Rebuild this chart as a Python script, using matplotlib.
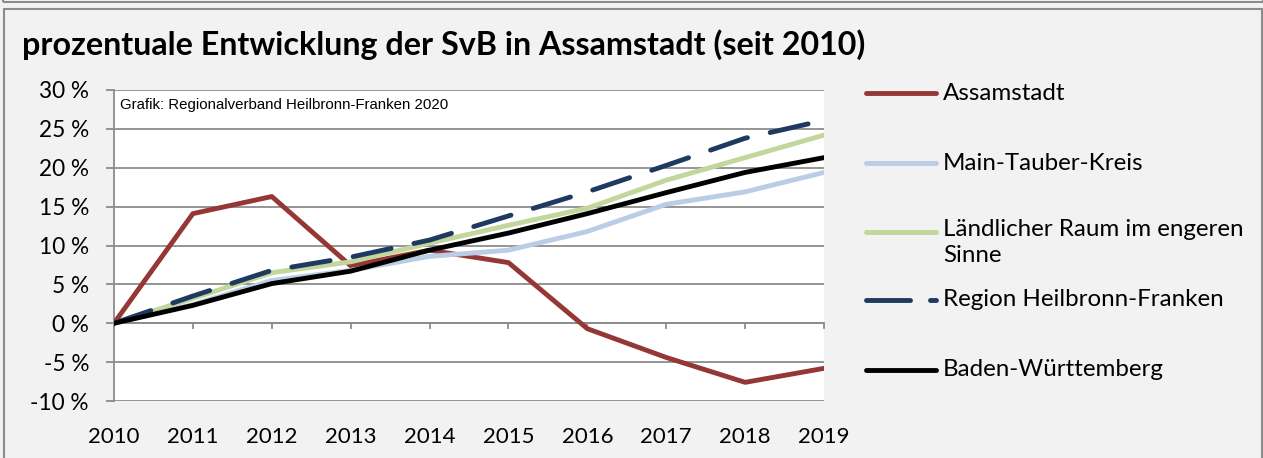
import matplotlib
matplotlib.use("Agg")
from matplotlib import pyplot as plt
from matplotlib.lines import Line2D
from matplotlib.patches import Rectangle
import numpy as np

years = [2010, 2011, 2012, 2013, 2014, 2015, 2016, 2017, 2018, 2019]
assamstadt = [0, 14.1, 16.3, 7.4, 9.4, 7.8, -0.7, -4.4, -7.6, -5.8]
main_tauber = [0, 2.4, 5.5, 6.8, 8.6, 9.4, 11.8, 15.3, 16.9, 19.4]
laendlich = [0, 3.2, 6.5, 7.9, 10.3, 12.6, 14.8, 18.4, 21.3, 24.2]
region_hnf = [0, 3.5, 6.8, 8.5, 10.7, 13.8, 16.9, 20.3, 23.8, 26.1]
bw = [0, 2.3, 5.1, 6.7, 9.4, 11.6, 14.1, 16.8, 19.4, 21.3]
y_ticks = [-10, -5, 0, 5, 10, 15, 20, 25, 30]

labels = ["Assamstadt", "Main-Tauber-Kreis", "Ländlicher Raum im engeren\nSinne",
          "Region Heilbronn-Franken", "Baden-Württemberg"]
colors = ["#953735", "#b9cde5", "#c3d69b", "#1f3a60", "#000000"]

W, H = 1263, 458
bg = "#f2f2f2"
grid_c = "#8c8c8c"
fig = plt.figure(figsize=(W / 100, H / 100), dpi=100, facecolor=bg)

# frames
fig.add_artist(Rectangle((3 / W, 1 - 1.5 / H), (W - 3) / W, 0.02, transform=fig.transFigure,
                         fill=False, edgecolor=grid_c, lw=1.5))
fig.add_artist(Rectangle((3.5 / W, -0.01), (W - 5) / W, 1 - 9.5 / H + 0.01, transform=fig.transFigure,
                         fill=False, edgecolor=grid_c, lw=1.5))

x0, x1, ytop, ybot = 114, 824, 90, 401
ax = fig.add_axes([x0 / W, 1 - ybot / H, (x1 - x0) / W, (ybot - ytop) / H])
ax.set_facecolor("white")

lw = 3.5
ax.plot(years, assamstadt, color=colors[0], lw=lw, zorder=3)
ax.plot(years, main_tauber, color=colors[1], lw=lw, zorder=3)
ax.plot(years, laendlich, color=colors[2], lw=lw, zorder=4)
ax.plot(years, region_hnf, color=colors[3], lw=lw, zorder=5, dashes=(8, 4.8), dash_capstyle="round")
ax.plot(years, bw, color=colors[4], lw=lw, zorder=6)

ax.set_xlim(years[0], years[-1])
ax.set_ylim(-10, 30)
ax.set_yticks(y_ticks)
ax.set_yticklabels([f"{v} %" for v in y_ticks])
ax.grid(axis="y", color=grid_c, lw=1.3)
ax.set_axisbelow(True)
for s in ["top", "right", "bottom"]:
    ax.spines[s].set_visible(False)
ax.spines["left"].set_color(grid_c)
ax.spines["left"].set_linewidth(1.3)
ax.axhline(0, color=grid_c, lw=1.3, zorder=1)

# x ticks sit on the 0 line, labels below the plot
ax.set_xticks(years)
ax.tick_params(axis="x", length=0, labelsize=16, pad=19)
for yr in years[1:]:
    ax.plot([yr, yr], [0, -0.65], color=grid_c, lw=1.3, zorder=1, clip_on=False)
ax.tick_params(axis="y", length=6, width=1.3, color=grid_c, labelsize=16.3, pad=12)
for t in ax.get_yticklabels() + ax.get_xticklabels():
    t.set_family("Lato")

ax.text(0.009, 0.975, "Grafik: Regionalverband Heilbronn-Franken 2020", transform=ax.transAxes,
        ha="left", va="top", fontsize=10.8, family="Liberation Sans")

fig.text(22 / W, 1 - 45 / H, "prozentuale Entwicklung der SvB in Assamstadt (seit 2010)",
         fontsize=23.2, fontweight="bold", family="Lato", ha="left", va="center")

# legend
leg_y = [93, 163, 232, 300, 370]
for i, (lab, c, yy) in enumerate(zip(labels, colors, leg_y)):
    yf = 1 - yy / H
    if i == 3:
        fig.add_artist(Line2D([866 / W, 910 / W], [yf, yf], color=c, lw=lw, solid_capstyle="round"))
        fig.add_artist(Line2D([930 / W, 936 / W], [yf, yf], color=c, lw=lw, solid_capstyle="round"))
    else:
        fig.add_artist(Line2D([866 / W, 936 / W], [yf, yf], color=c, lw=lw, solid_capstyle="round"))
    if "\n" in lab:
        fig.text(943 / W, yf + 13 / H, lab, fontsize=17.4, family="Lato", ha="left", va="top", linespacing=1.28)
    else:
        fig.text(943 / W, yf, lab, fontsize=17.4, family="Lato", ha="left", va="center")

fig.savefig("out.png", dpi=100, facecolor=bg)
